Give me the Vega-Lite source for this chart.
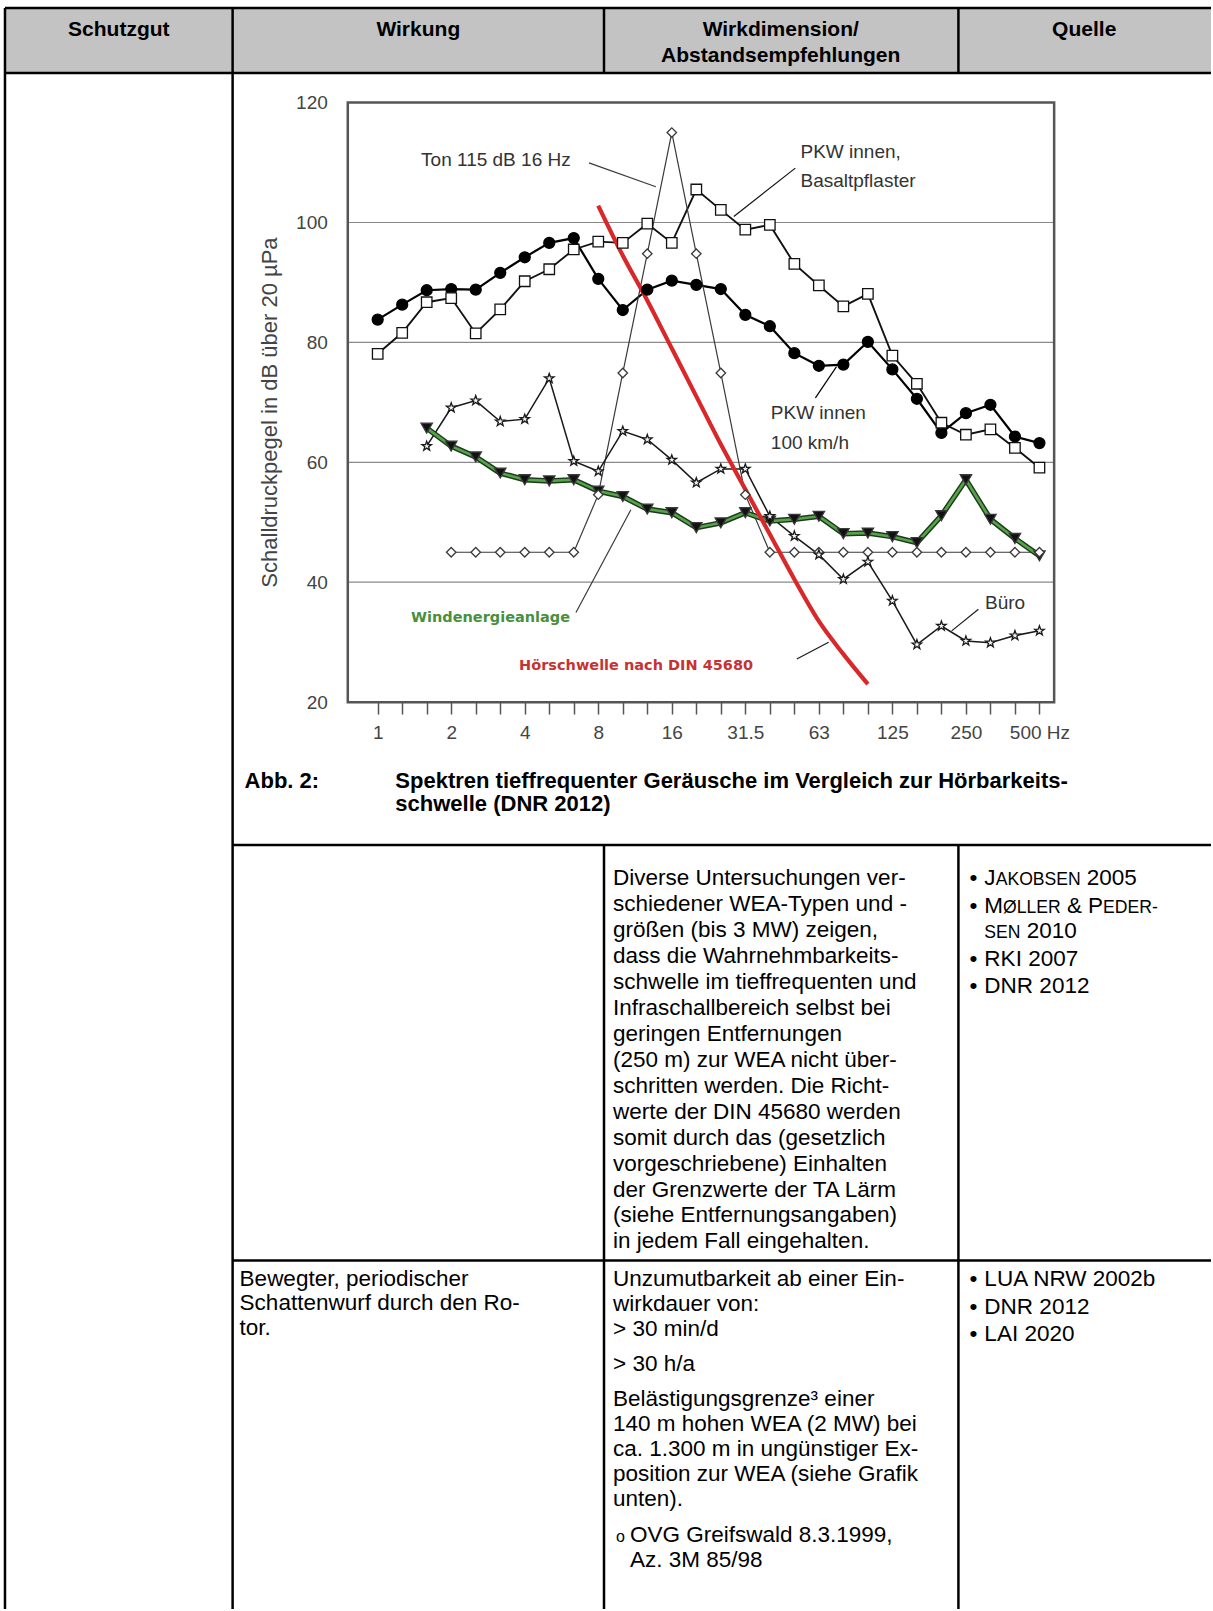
{
"$schema":"https://vega.github.io/schema/vega-lite/v6.json",
"width":1213,"height":1611,
"autosize":{"type":"fit","contains":"padding"},
"padding":0,
"background":"white",
"config":{"view":{"stroke":null},"font":"Liberation Sans"},
"datasets":{
"headerfill":[{"x1":5,"x2":1213,"y1":8,"y2":73}],
"tablelines":[
{"x1":5,"x2":1213,"y1":8,"y2":8},
{"x1":5,"x2":1213,"y1":73,"y2":73},
{"x1":5,"x2":5,"y1":8,"y2":1611},
{"x1":233,"x2":233,"y1":8,"y2":1611},
{"x1":605,"x2":605,"y1":8,"y2":73},
{"x1":960,"x2":960,"y1":8,"y2":73},
{"x1":233,"x2":1213,"y1":846,"y2":846},
{"x1":605,"x2":605,"y1":846,"y2":1611},
{"x1":960,"x2":960,"y1":846,"y2":1611},
{"x1":233,"x2":1213,"y1":1262,"y2":1262}
],
"texts":[
{"role":"header","x":119,"y":36.5,"text":"Schutzgut"},
{"role":"header","x":419,"y":36.5,"text":"Wirkung"},
{"role":"header","x":782,"y":36.5,"text":"Wirkdimension/"},
{"role":"header","x":782,"y":62.5,"text":"Abstandsempfehlungen"},
{"role":"header","x":1086,"y":36.5,"text":"Quelle"},
{"role":"caption","x":245,"y":789,"text":"Abb. 2:"},
{"role":"caption","x":396,"y":789,"text":"Spektren tieffrequenter Geräusche im Vergleich zur Hörbarkeits-"},
{"role":"caption","x":396,"y":812,"text":"schwelle (DNR 2012)"},
{"role":"cell","x":614,"y":886,"text":"Diverse Untersuchungen ver-"},
{"role":"cell","x":614,"y":912,"text":"schiedener WEA-Typen und -"},
{"role":"cell","x":614,"y":938,"text":"größen (bis 3 MW) zeigen,"},
{"role":"cell","x":614,"y":964,"text":"dass die Wahrnehmbarkeits-"},
{"role":"cell","x":614,"y":990,"text":"schwelle im tieffrequenten und"},
{"role":"cell","x":614,"y":1016,"text":"Infraschallbereich selbst bei"},
{"role":"cell","x":614,"y":1042,"text":"geringen Entfernungen"},
{"role":"cell","x":614,"y":1068,"text":"(250 m) zur WEA nicht über-"},
{"role":"cell","x":614,"y":1094,"text":"schritten werden. Die Richt-"},
{"role":"cell","x":614,"y":1120,"text":"werte der DIN 45680 werden"},
{"role":"cell","x":614,"y":1146,"text":"somit durch das (gesetzlich"},
{"role":"cell","x":614,"y":1172,"text":"vorgeschriebene) Einhalten"},
{"role":"cell","x":614,"y":1198,"text":"der Grenzwerte der TA Lärm"},
{"role":"cell","x":614,"y":1224,"text":"(siehe Entfernungsangaben)"},
{"role":"cell","x":614,"y":1250,"text":"in jedem Fall eingehalten."},
{"role":"cell","x":971,"y":886,"text":"•"},
{"role":"cell","x":986,"y":886,"text":"J"},
{"role":"sc","x":997.3,"y":886,"text":"AKOBSEN"},
{"role":"cell","x":1088.6,"y":886,"text":"2005"},
{"role":"cell","x":971,"y":914,"text":"•"},
{"role":"cell","x":986,"y":914,"text":"M"},
{"role":"sc","x":1004.7,"y":914,"text":"ØLLER"},
{"role":"cell","x":1068.7,"y":914,"text":"&"},
{"role":"cell","x":1089.9,"y":914,"text":"P"},
{"role":"sc","x":1104.9,"y":914,"text":"EDER-"},
{"role":"sc","x":986,"y":939,"text":"SEN"},
{"role":"cell","x":1028.5,"y":939,"text":"2010"},
{"role":"cell","x":971,"y":967,"text":"•"},
{"role":"cell","x":986,"y":967,"text":"RKI 2007"},
{"role":"cell","x":971,"y":994,"text":"•"},
{"role":"cell","x":986,"y":994,"text":"DNR 2012"},
{"role":"cell","x":240,"y":1288,"text":"Bewegter, periodischer"},
{"role":"cell","x":240,"y":1312,"text":"Schattenwurf durch den Ro-"},
{"role":"cell","x":240,"y":1337,"text":"tor."},
{"role":"cell","x":614,"y":1288,"text":"Unzumutbarkeit ab einer Ein-"},
{"role":"cell","x":614,"y":1313,"text":"wirkdauer von:"},
{"role":"cell","x":614,"y":1338,"text":"> 30 min/d"},
{"role":"cell","x":614,"y":1373,"text":"> 30 h/a"},
{"role":"cell","x":614,"y":1408,"text":"Belästigungsgrenze³ einer"},
{"role":"cell","x":614,"y":1433,"text":"140 m hohen WEA (2 MW) bei"},
{"role":"cell","x":614,"y":1458,"text":"ca. 1.300 m in ungünstiger Ex-"},
{"role":"cell","x":614,"y":1483,"text":"position zur WEA (siehe Grafik"},
{"role":"cell","x":614,"y":1508,"text":"unten)."},
{"role":"small","x":617,"y":1544,"text":"o"},
{"role":"cell","x":631,"y":1544,"text":"OVG Greifswald 8.3.1999,"},
{"role":"cell","x":631,"y":1569,"text":"Az. 3M 85/98"},
{"role":"cell","x":971,"y":1288,"text":"•"},
{"role":"cell","x":986,"y":1288,"text":"LUA NRW 2002b"},
{"role":"cell","x":971,"y":1316,"text":"•"},
{"role":"cell","x":986,"y":1316,"text":"DNR 2012"},
{"role":"cell","x":971,"y":1343,"text":"•"},
{"role":"cell","x":986,"y":1343,"text":"LAI 2020"}
],
"gridlines":[{"db":40},{"db":60},{"db":80},{"db":100}],
"frame":[{"name":"plot"}],
"ytitle":[{"band":-4.41,"db":68.3,"text":"Schalldruckpegel in dB über 20 µPa"}],
"annotations":[
{"series":"ton","band":1.77,"db":110.45,"text":"Ton 115 dB 16 Hz"},
{"series":"basalt","band":17.25,"db":111.84,"text":"PKW innen,"},
{"series":"basalt","band":17.25,"db":106.84,"text":"Basaltpflaster"},
{"series":"pkw100","band":16.04,"db":68.26,"text":"PKW innen"},
{"series":"pkw100","band":16.04,"db":63.26,"text":"100 km/h"},
{"series":"buero","band":24.78,"db":36.61,"text":"Büro"},
{"series":"wea","band":1.36,"db":34.11,"text":"Windenergieanlage"},
{"series":"hs","band":5.77,"db":26.0,"text":"Hörschwelle nach DIN 45680"}
],
"leaders":[
{"series":"ton","band":8.62,"db":109.95,"band2":11.35,"db2":105.96},
{"series":"basalt","band":17.04,"db":109.07,"band2":14.53,"db2":101.0},
{"series":"pkw100","band":17.86,"db":70.76,"band2":18.72,"db2":75.97},
{"series":"buero","band":24.51,"db":35.49,"band2":23.42,"db2":31.88},
{"series":"wea","band":8.09,"db":34.94,"band2":10.33,"db2":52.08},
{"series":"hs","band":17.1,"db":27.2,"band2":18.4,"db2":30.0}
],
"series":[
{"series":"pkw100","band":0,"hz":1,"db":83.8},{"series":"pkw100","band":1,"hz":1.25,"db":86.3},{"series":"pkw100","band":2,"hz":1.6,"db":88.7},{"series":"pkw100","band":3,"hz":2,"db":88.9},{"series":"pkw100","band":4,"hz":2.5,"db":88.8},{"series":"pkw100","band":5,"hz":3.15,"db":91.6},{"series":"pkw100","band":6,"hz":4,"db":94.2},{"series":"pkw100","band":7,"hz":5,"db":96.6},{"series":"pkw100","band":8,"hz":6.3,"db":97.4},{"series":"pkw100","band":9,"hz":8,"db":90.6},{"series":"pkw100","band":10,"hz":10,"db":85.4},{"series":"pkw100","band":11,"hz":12.5,"db":88.8},{"series":"pkw100","band":12,"hz":16,"db":90.3},{"series":"pkw100","band":13,"hz":20,"db":89.6},{"series":"pkw100","band":14,"hz":25,"db":88.9},{"series":"pkw100","band":15,"hz":31.5,"db":84.6},{"series":"pkw100","band":16,"hz":40,"db":82.7},{"series":"pkw100","band":17,"hz":50,"db":78.2},{"series":"pkw100","band":18,"hz":63,"db":76.1},{"series":"pkw100","band":19,"hz":80,"db":76.3},{"series":"pkw100","band":20,"hz":100,"db":80.1},{"series":"pkw100","band":21,"hz":125,"db":75.5},{"series":"pkw100","band":22,"hz":160,"db":70.6},{"series":"pkw100","band":23,"hz":200,"db":64.9},{"series":"pkw100","band":24,"hz":250,"db":68.2},{"series":"pkw100","band":25,"hz":315,"db":69.6},{"series":"pkw100","band":26,"hz":400,"db":64.3},{"series":"pkw100","band":27,"hz":500,"db":63.2},
{"series":"basalt","band":0,"hz":1,"db":78.1},{"series":"basalt","band":1,"hz":1.25,"db":81.6},{"series":"basalt","band":2,"hz":1.6,"db":86.7},{"series":"basalt","band":3,"hz":2,"db":87.4},{"series":"basalt","band":4,"hz":2.5,"db":81.5},{"series":"basalt","band":5,"hz":3.15,"db":85.5},{"series":"basalt","band":6,"hz":4,"db":90.2},{"series":"basalt","band":7,"hz":5,"db":92.2},{"series":"basalt","band":8,"hz":6.3,"db":95.5},{"series":"basalt","band":9,"hz":8,"db":96.8},{"series":"basalt","band":10,"hz":10,"db":96.6},{"series":"basalt","band":11,"hz":12.5,"db":99.8},{"series":"basalt","band":12,"hz":16,"db":96.6},{"series":"basalt","band":13,"hz":20,"db":105.5},{"series":"basalt","band":14,"hz":25,"db":102.1},{"series":"basalt","band":15,"hz":31.5,"db":98.8},{"series":"basalt","band":16,"hz":40,"db":99.6},{"series":"basalt","band":17,"hz":50,"db":93.1},{"series":"basalt","band":18,"hz":63,"db":89.5},{"series":"basalt","band":19,"hz":80,"db":86.0},{"series":"basalt","band":20,"hz":100,"db":88.1},{"series":"basalt","band":21,"hz":125,"db":77.8},{"series":"basalt","band":22,"hz":160,"db":73.1},{"series":"basalt","band":23,"hz":200,"db":66.6},{"series":"basalt","band":24,"hz":250,"db":64.6},{"series":"basalt","band":25,"hz":315,"db":65.5},{"series":"basalt","band":26,"hz":400,"db":62.4},{"series":"basalt","band":27,"hz":500,"db":59.1},
{"series":"wea","band":2,"hz":1.6,"db":65.7},{"series":"wea","band":3,"hz":2,"db":62.7},{"series":"wea","band":4,"hz":2.5,"db":60.9},{"series":"wea","band":5,"hz":3.15,"db":58.2},{"series":"wea","band":6,"hz":4,"db":57.1},{"series":"wea","band":7,"hz":5,"db":56.9},{"series":"wea","band":8,"hz":6.3,"db":57.1},{"series":"wea","band":9,"hz":8,"db":55.2},{"series":"wea","band":10,"hz":10,"db":54.3},{"series":"wea","band":11,"hz":12.5,"db":52.2},{"series":"wea","band":12,"hz":16,"db":51.6},{"series":"wea","band":13,"hz":20,"db":49.1},{"series":"wea","band":14,"hz":25,"db":49.9},{"series":"wea","band":15,"hz":31.5,"db":51.6},{"series":"wea","band":16,"hz":40,"db":50.2},{"series":"wea","band":17,"hz":50,"db":50.5},{"series":"wea","band":18,"hz":63,"db":51.0},{"series":"wea","band":19,"hz":80,"db":48.1},{"series":"wea","band":20,"hz":100,"db":48.2},{"series":"wea","band":21,"hz":125,"db":47.6},{"series":"wea","band":22,"hz":160,"db":46.6},{"series":"wea","band":23,"hz":200,"db":51.1},{"series":"wea","band":24,"hz":250,"db":57.1},{"series":"wea","band":25,"hz":315,"db":50.5},{"series":"wea","band":26,"hz":400,"db":47.3},{"series":"wea","band":27,"hz":500,"db":44.4},
{"series":"ton","band":3,"hz":2,"db":45},{"series":"ton","band":4,"hz":2.5,"db":45},{"series":"ton","band":5,"hz":3.15,"db":45},{"series":"ton","band":6,"hz":4,"db":45},{"series":"ton","band":7,"hz":5,"db":45},{"series":"ton","band":8,"hz":6.3,"db":45},{"series":"ton","band":9,"hz":8,"db":54.6},{"series":"ton","band":10,"hz":10,"db":74.9},{"series":"ton","band":11,"hz":12.5,"db":94.8},{"series":"ton","band":12,"hz":16,"db":115},{"series":"ton","band":13,"hz":20,"db":94.8},{"series":"ton","band":14,"hz":25,"db":74.9},{"series":"ton","band":15,"hz":31.5,"db":54.6},{"series":"ton","band":16,"hz":40,"db":45},{"series":"ton","band":17,"hz":50,"db":45},{"series":"ton","band":18,"hz":63,"db":45},{"series":"ton","band":19,"hz":80,"db":45},{"series":"ton","band":20,"hz":100,"db":45},{"series":"ton","band":21,"hz":125,"db":45},{"series":"ton","band":22,"hz":160,"db":45},{"series":"ton","band":23,"hz":200,"db":45},{"series":"ton","band":24,"hz":250,"db":45},{"series":"ton","band":25,"hz":315,"db":45},{"series":"ton","band":26,"hz":400,"db":45},{"series":"ton","band":27,"hz":500,"db":45},
{"series":"buero","band":2,"hz":1.6,"db":62.7},{"series":"buero","band":3,"hz":2,"db":69.1},{"series":"buero","band":4,"hz":2.5,"db":70.3},{"series":"buero","band":5,"hz":3.15,"db":66.8},{"series":"buero","band":6,"hz":4,"db":67.2},{"series":"buero","band":7,"hz":5,"db":74.0},{"series":"buero","band":8,"hz":6.3,"db":60.2},{"series":"buero","band":9,"hz":8,"db":58.5},{"series":"buero","band":10,"hz":10,"db":65.2},{"series":"buero","band":11,"hz":12.5,"db":63.8},{"series":"buero","band":12,"hz":16,"db":60.4},{"series":"buero","band":13,"hz":20,"db":56.6},{"series":"buero","band":14,"hz":25,"db":58.9},{"series":"buero","band":15,"hz":31.5,"db":58.9},{"series":"buero","band":16,"hz":40,"db":51.0},{"series":"buero","band":17,"hz":50,"db":47.7},{"series":"buero","band":18,"hz":63,"db":44.6},{"series":"buero","band":19,"hz":80,"db":40.5},{"series":"buero","band":20,"hz":100,"db":43.4},{"series":"buero","band":21,"hz":125,"db":36.9},{"series":"buero","band":22,"hz":160,"db":29.6},{"series":"buero","band":23,"hz":200,"db":32.7},{"series":"buero","band":24,"hz":250,"db":30.2},{"series":"buero","band":25,"hz":315,"db":29.9},{"series":"buero","band":26,"hz":400,"db":31.1},{"series":"buero","band":27,"hz":500,"db":31.9},
{"series":"hs","band":9,"hz":8,"db":102.8},{"series":"hs","band":10,"hz":10,"db":94.5},{"series":"hs","band":11,"hz":12.5,"db":87},{"series":"hs","band":12,"hz":16,"db":79},{"series":"hs","band":13,"hz":20,"db":71},{"series":"hs","band":14,"hz":25,"db":63},{"series":"hs","band":15,"hz":31.5,"db":55.5},{"series":"hs","band":16,"hz":40,"db":48},{"series":"hs","band":17,"hz":50,"db":40.5},{"series":"hs","band":18,"hz":63,"db":33.5},{"series":"hs","band":19,"hz":80,"db":28},{"series":"hs","band":20,"hz":100,"db":23}
]
},
"layer":[
{
"layer":[
{"data":{"name":"headerfill"},"mark":{"type":"rect","fill":"#c3c3c3"},
"encoding":{"x":{"field":"x1","type":"quantitative","scale":{"domain":[0,1213],"nice":false,"zero":false},"axis":null},"x2":{"field":"x2"},"y":{"field":"y1","type":"quantitative","scale":{"domain":[0,1611],"nice":false,"zero":false,"reverse":true},"axis":null},"y2":{"field":"y2"}}},
{"data":{"name":"tablelines"},"mark":{"type":"rule","stroke":"#000000","strokeWidth":2.5},
"encoding":{"x":{"field":"x1","type":"quantitative","scale":{"domain":[0,1213],"nice":false,"zero":false},"axis":null},"x2":{"field":"x2"},"y":{"field":"y1","type":"quantitative","scale":{"domain":[0,1611],"nice":false,"zero":false,"reverse":true},"axis":null},"y2":{"field":"y2"}}},
{"data":{"name":"texts"},"transform":[{"filter":"datum.role=='header'"}],"mark":{"type":"text","align":"center","baseline":"alphabetic","fontSize":21,"fontWeight":"bold","font":"Liberation Sans","color":"#000000"},
"encoding":{"x":{"field":"x","type":"quantitative","scale":{"domain":[0,1213],"nice":false,"zero":false},"axis":null},"y":{"field":"y","type":"quantitative","scale":{"domain":[0,1611],"nice":false,"zero":false,"reverse":true},"axis":null},"text":{"field":"text"}}},
{"data":{"name":"texts"},"transform":[{"filter":"datum.role=='caption'"}],"mark":{"type":"text","align":"left","baseline":"alphabetic","fontSize":22,"fontWeight":"bold","font":"Liberation Sans","color":"#000000"},
"encoding":{"x":{"field":"x","type":"quantitative","scale":{"domain":[0,1213],"nice":false,"zero":false},"axis":null},"y":{"field":"y","type":"quantitative","scale":{"domain":[0,1611],"nice":false,"zero":false,"reverse":true},"axis":null},"text":{"field":"text"}}},
{"data":{"name":"texts"},"transform":[{"filter":"datum.role=='cell'"}],"mark":{"type":"text","align":"left","baseline":"alphabetic","fontSize":22.5,"font":"Liberation Sans","color":"#000000"},
"encoding":{"x":{"field":"x","type":"quantitative","scale":{"domain":[0,1213],"nice":false,"zero":false},"axis":null},"y":{"field":"y","type":"quantitative","scale":{"domain":[0,1611],"nice":false,"zero":false,"reverse":true},"axis":null},"text":{"field":"text"}}},
{"data":{"name":"texts"},"transform":[{"filter":"datum.role=='sc'"}],"mark":{"type":"text","align":"left","baseline":"alphabetic","fontSize":17.6,"font":"Liberation Sans","color":"#000000"},
"encoding":{"x":{"field":"x","type":"quantitative","scale":{"domain":[0,1213],"nice":false,"zero":false},"axis":null},"y":{"field":"y","type":"quantitative","scale":{"domain":[0,1611],"nice":false,"zero":false,"reverse":true},"axis":null},"text":{"field":"text"}}},
{"data":{"name":"texts"},"transform":[{"filter":"datum.role=='small'"}],"mark":{"type":"text","align":"left","baseline":"alphabetic","fontSize":16,"font":"Liberation Sans","color":"#000000"},
"encoding":{"x":{"field":"x","type":"quantitative","scale":{"domain":[0,1213],"nice":false,"zero":false},"axis":null},"y":{"field":"y","type":"quantitative","scale":{"domain":[0,1611],"nice":false,"zero":false,"reverse":true},"axis":null},"text":{"field":"text"}}}
]
},
{
"layer":[
{"data":{"name":"gridlines"},"mark":{"type":"rule","stroke":"#8a8a8a","strokeWidth":1.2},
"encoding":{"x":{"datum":-1.22,"type":"quantitative","scale":{"domain":[-15.41,34.0],"nice":false,"zero":false}},"x2":{"datum":27.6},"y":{"field":"db","type":"quantitative","scale":{"domain":[-131.26,137.11],"nice":false,"zero":false}}}},
{"data":{"name":"frame"},"mark":{"type":"rect","fill":null,"fillOpacity":0,"stroke":"#555555","strokeWidth":2.5},
"encoding":{"x":{"datum":-1.22,"type":"quantitative","scale":{"domain":[-15.41,34.0],"nice":false,"zero":false}},"x2":{"datum":27.6},"y":{"datum":120,"type":"quantitative","scale":{"domain":[-131.26,137.11],"nice":false,"zero":false}},"y2":{"datum":20}}},
{"data":{"name":"series"},"transform":[{"filter":"datum.series=='ton' || datum.series=='buero' || datum.series=='basalt' || datum.series=='pkw100'"}],"mark":{"type":"line"},
"encoding":{
"x":{"field":"band","type":"quantitative","scale":{"domain":[-15.41,34.0],"nice":false,"zero":false},
"axis":{"orient":"bottom","offset":-908,"values":[0,1,2,3,4,5,6,7,8,9,10,11,12,13,14,15,16,17,18,19,20,21,22,23,24,25,26,27],
"labelExpr":"datum.value==0?'1':datum.value==3?'2':datum.value==6?'4':datum.value==9?'8':datum.value==12?'16':datum.value==15?'31.5':datum.value==18?'63':datum.value==21?'125':datum.value==24?'250':datum.value==27?'500 Hz':''",
"domain":false,"grid":false,"tickSize":13,"tickColor":"#555555","tickWidth":1.5,"labelPadding":9,"labelFontSize":19,"labelColor":"#444444","labelFont":"Liberation Sans","labelOverlap":false,"labelBound":false,"labelFlush":false,"title":null}},
"y":{"field":"db","type":"quantitative","scale":{"domain":[-131.26,137.11],"nice":false,"zero":false},
"axis":{"orient":"left","offset":-348.3,"values":[20,40,60,80,100,120],"domain":false,"grid":false,"ticks":false,"labelPadding":21,"labelFontSize":19,"labelColor":"#444444","labelFont":"Liberation Sans","labelOverlap":false,"labelBound":false,"title":null}},
"detail":{"field":"series"},
"stroke":{"field":"series","type":"nominal","scale":{"domain":["ton","buero","basalt","pkw100"],"range":["#3a3a3a","#1a1a1a","#111111","#000000"]},"legend":null},
"strokeWidth":{"field":"series","type":"nominal","scale":{"domain":["ton","buero","basalt","pkw100"],"range":[1.2,2.2,2.8,3.6]},"legend":null}
}},
{"data":{"name":"series"},"transform":[{"filter":"datum.series=='wea'"}],"mark":{"type":"line","stroke":"#1e3a1c","strokeWidth":5.5},
"encoding":{"x":{"field":"band","type":"quantitative","scale":{"domain":[-15.41,34.0],"nice":false,"zero":false}},"y":{"field":"db","type":"quantitative","scale":{"domain":[-131.26,137.11],"nice":false,"zero":false}}}},
{"data":{"name":"series"},"transform":[{"filter":"datum.series=='wea'"}],"mark":{"type":"line","stroke":"#55a44a","strokeWidth":2.6},
"encoding":{"x":{"field":"band","type":"quantitative","scale":{"domain":[-15.41,34.0],"nice":false,"zero":false}},"y":{"field":"db","type":"quantitative","scale":{"domain":[-131.26,137.11],"nice":false,"zero":false}}}},
{"data":{"name":"series"},"transform":[{"filter":"datum.series=='hs'"}],"mark":{"type":"line","stroke":"#d8282a","strokeWidth":4.2,"interpolate":"monotone"},
"encoding":{"x":{"field":"band","type":"quantitative","scale":{"domain":[-15.41,34.0],"nice":false,"zero":false}},"y":{"field":"db","type":"quantitative","scale":{"domain":[-131.26,137.11],"nice":false,"zero":false}}}},
{"data":{"name":"series"},"transform":[{"filter":"datum.series!='hs'"}],"mark":{"type":"point","filled":true,"strokeWidth":1.3,"opacity":1},
"encoding":{"x":{"field":"band","type":"quantitative","scale":{"domain":[-15.41,34.0],"nice":false,"zero":false}},"y":{"field":"db","type":"quantitative","scale":{"domain":[-131.26,137.11],"nice":false,"zero":false}},
"shape":{"field":"series","type":"nominal","scale":{"domain":["ton","buero","basalt","pkw100","wea"],"range":["diamond","M0,-1L0.235,-0.324L0.951,-0.309L0.38,0.124L0.588,0.809L0,0.4L-0.588,0.809L-0.38,0.124L-0.951,-0.309L-0.235,-0.324Z","square","circle","triangle-down"]},"legend":null},
"fill":{"field":"series","type":"nominal","scale":{"domain":["ton","buero","basalt","pkw100","wea"],"range":["#ffffff","#f2f2f2","#ffffff","#000000","#111111"]},"legend":null},
"stroke":{"field":"series","type":"nominal","scale":{"domain":["ton","buero","basalt","pkw100","wea"],"range":["#333333","#555555","#555555","#000000","#000000"]},"legend":null},
"size":{"field":"series","type":"nominal","scale":{"domain":["ton","buero","basalt","pkw100","wea"],"range":[90,130,200,140,110]},"legend":null}
}},
{"data":{"name":"leaders"},"mark":{"type":"rule","strokeWidth":1.2},
"encoding":{"x":{"field":"band","type":"quantitative","scale":{"domain":[-15.41,34.0],"nice":false,"zero":false}},"x2":{"field":"band2"},"y":{"field":"db","type":"quantitative","scale":{"domain":[-131.26,137.11],"nice":false,"zero":false}},"y2":{"field":"db2"},
"stroke":{"field":"series","type":"nominal","scale":{"domain":["ton","basalt","pkw100","buero","wea","hs"],"range":["#777777","#777777","#777777","#777777","#5f9f55","#cc4444"]},"legend":null}}},
{"data":{"name":"annotations"},"transform":[{"filter":"datum.series!='wea' && datum.series!='hs'"}],"mark":{"type":"text","align":"left","baseline":"middle","fontSize":19,"font":"Liberation Sans","color":"#333333"},
"encoding":{"x":{"field":"band","type":"quantitative","scale":{"domain":[-15.41,34.0],"nice":false,"zero":false}},"y":{"field":"db","type":"quantitative","scale":{"domain":[-131.26,137.11],"nice":false,"zero":false}},"text":{"field":"text"}}},
{"data":{"name":"annotations"},"transform":[{"filter":"datum.series=='wea' || datum.series=='hs'"}],"mark":{"type":"text","align":"left","baseline":"middle","fontSize":14.5,"fontWeight":"bold","font":"DejaVu Sans"},
"encoding":{"x":{"field":"band","type":"quantitative","scale":{"domain":[-15.41,34.0],"nice":false,"zero":false}},"y":{"field":"db","type":"quantitative","scale":{"domain":[-131.26,137.11],"nice":false,"zero":false}},"text":{"field":"text"},
"color":{"field":"series","type":"nominal","scale":{"domain":["wea","hs"],"range":["#4a8f3c","#c83232"]},"legend":null}}},
{"data":{"name":"ytitle"},"mark":{"type":"text","align":"center","baseline":"middle","angle":270,"fontSize":22,"font":"Liberation Sans","color":"#444444"},
"encoding":{"x":{"field":"band","type":"quantitative","scale":{"domain":[-15.41,34.0],"nice":false,"zero":false}},"y":{"field":"db","type":"quantitative","scale":{"domain":[-131.26,137.11],"nice":false,"zero":false}},"text":{"field":"text"}}}
]
}
],
"resolve":{"scale":{"x":"independent","y":"independent","color":"independent","stroke":"independent","strokeWidth":"independent","shape":"independent","fill":"independent","size":"independent"},"axis":{"x":"independent","y":"independent"}}
}
